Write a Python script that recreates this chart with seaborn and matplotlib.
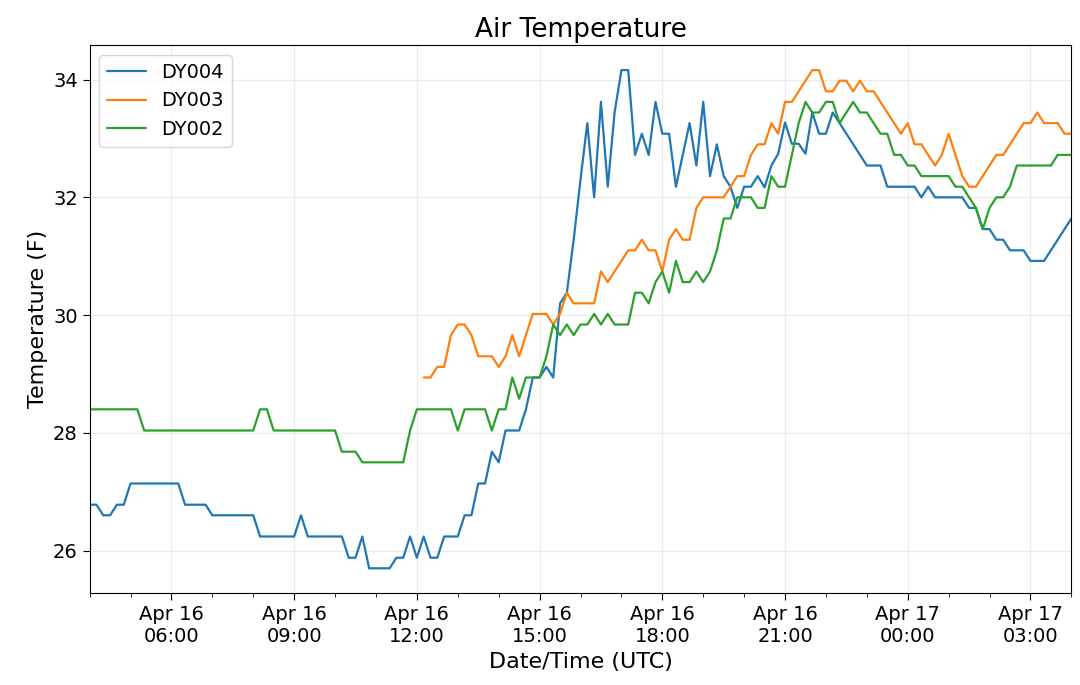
import pandas as pd
import numpy as np
import matplotlib
matplotlib.use('Agg')
import matplotlib.pyplot as plt
import matplotlib.dates as mdates
import seaborn as sns

# readings every 10 min, stored as (value, how many readings in a row)
dy004_runs = [(26.78, 2), (26.6, 2), (26.78, 2), (27.14, 8), (26.78, 4), (26.6, 7), (26.24, 6),
              (26.6, 1), (26.24, 6), (25.88, 2), (26.24, 1), (25.7, 4), (25.88, 2), (26.24, 1),
              (25.88, 1), (26.24, 1), (25.88, 2), (26.24, 3), (26.6, 2), (27.14, 2), (27.68, 1),
              (27.5, 1), (28.04, 3), (28.4, 1), (28.94, 2), (29.12, 1), (28.94, 1), (30.2, 1),
              (30.38, 1), (31.28, 1), (32.3, 1), (33.26, 1), (32.0, 1), (33.62, 1), (32.18, 1),
              (33.44, 1), (34.16, 2), (32.72, 1), (33.08, 1), (32.72, 1), (33.62, 1), (33.08, 2),
              (32.18, 1), (32.72, 1), (33.26, 1), (32.54, 1), (33.62, 1), (32.36, 1), (32.9, 1),
              (32.36, 1), (32.18, 1), (31.82, 1), (32.18, 2), (32.36, 1), (32.17, 1), (32.54, 1),
              (32.74, 1), (33.27, 1), (32.91, 2), (32.74, 1), (33.44, 1), (33.08, 2), (33.44, 1),
              (33.26, 1), (33.08, 1), (32.9, 1), (32.72, 1), (32.54, 3), (32.18, 5), (32.0, 1),
              (32.18, 1), (32.0, 5), (31.82, 2), (31.46, 2), (31.28, 2), (31.1, 3), (30.92, 3),
              (31.1, 1), (31.28, 1), (31.46, 1), (31.64, 1)]

dy003_runs = [(np.nan, 49), (28.94, 2), (29.12, 2), (29.66, 1), (29.84, 2), (29.66, 1), (29.3, 3),
              (29.12, 1), (29.3, 1), (29.66, 1), (29.3, 1), (29.66, 1), (30.02, 3), (29.84, 1),
              (30.02, 1), (30.38, 1), (30.2, 4), (30.74, 1), (30.56, 1), (30.74, 1), (30.92, 1),
              (31.1, 2), (31.28, 1), (31.1, 2), (30.74, 1), (31.28, 1), (31.46, 1), (31.28, 2),
              (31.82, 1), (32.0, 4), (32.18, 1), (32.36, 2), (32.72, 1), (32.9, 2), (33.26, 1),
              (33.08, 1), (33.62, 2), (33.8, 1), (33.98, 1), (34.16, 2), (33.8, 2), (33.98, 2),
              (33.8, 1), (33.98, 1), (33.8, 2), (33.62, 1), (33.44, 1), (33.26, 1), (33.08, 1),
              (33.26, 1), (32.9, 2), (32.72, 1), (32.54, 1), (32.72, 1), (33.08, 1), (32.72, 1),
              (32.36, 1), (32.18, 2), (32.36, 1), (32.54, 1), (32.72, 2), (32.9, 1), (33.08, 1),
              (33.26, 2), (33.44, 1), (33.26, 3), (33.08, 2)]

dy002_runs = [(28.4, 8), (28.04, 17), (28.4, 2), (28.04, 10), (27.68, 3), (27.5, 7), (28.04, 1),
              (28.4, 6), (28.04, 1), (28.4, 4), (28.04, 1), (28.4, 2), (28.94, 1), (28.58, 1),
              (28.94, 3), (29.3, 1), (29.84, 1), (29.66, 1), (29.84, 1), (29.66, 1), (29.84, 2),
              (30.02, 1), (29.84, 1), (30.02, 1), (29.84, 3), (30.38, 2), (30.2, 1), (30.56, 1),
              (30.74, 1), (30.38, 1), (30.92, 1), (30.56, 2), (30.74, 1), (30.56, 1), (30.74, 1),
              (31.1, 1), (31.64, 2), (32.0, 3), (31.82, 2), (32.36, 1), (32.18, 2), (32.72, 1),
              (33.26, 1), (33.62, 1), (33.44, 2), (33.62, 2), (33.26, 1), (33.44, 1), (33.62, 1),
              (33.44, 2), (33.26, 1), (33.08, 2), (32.72, 2), (32.54, 2), (32.36, 5), (32.18, 2),
              (32.0, 1), (31.82, 1), (31.46, 1), (31.82, 1), (32.0, 2), (32.18, 1), (32.54, 6),
              (32.72, 3)]


def expand(runs):
    out = []
    for v, n in runs:
        out += [v] * n
    return out


series = {'DY004': expand(dy004_runs), 'DY003': expand(dy003_runs), 'DY002': expand(dy002_runs)}
n = min(len(v) for v in series.values())
times = pd.date_range('2019-04-16 04:00', periods=n, freq='10min')

sns.set_style('whitegrid', {'grid.color': '#ebebeb', 'axes.edgecolor': 'black',
                            'text.color': 'black', 'axes.labelcolor': 'black',
                            'xtick.color': 'black', 'ytick.color': 'black'})
plt.rcParams['font.family'] = ['DejaVu Sans']

fig, ax = plt.subplots(figsize=(10.8, 6.85), dpi=100)
fig.subplots_adjust(left=0.083, right=0.992, top=0.934, bottom=0.134)
colors = ['#1f77b4', '#ff7f0e', '#2ca02c']
for (name, vals), c in zip(series.items(), colors):
    sns.lineplot(x=times, y=vals[:n], ax=ax, label=name, color=c, linewidth=1.6)

ax.set_xlim(times[0], times[-1])
ax.xaxis.set_major_locator(mdates.HourLocator(byhour=range(0, 24, 3)))
ax.xaxis.set_minor_locator(mdates.HourLocator())
ax.xaxis.set_major_formatter(mdates.DateFormatter('%b %d\n%H:%M'))
ax.tick_params(axis='both', which='major', labelsize=14, length=5, bottom=True, left=True)
ax.tick_params(axis='x', which='minor', length=3, bottom=True)
ax.set_yticks([26, 28, 30, 32, 34])
ax.set_title('Air Temperature', fontsize=19)
ax.set_xlabel('Date/Time (UTC)', fontsize=16)
ax.set_ylabel('Temperature (F)', fontsize=16)
ax.legend(loc='upper left', fontsize=14, frameon=True, edgecolor='#cccccc')
fig.savefig('out.png')
